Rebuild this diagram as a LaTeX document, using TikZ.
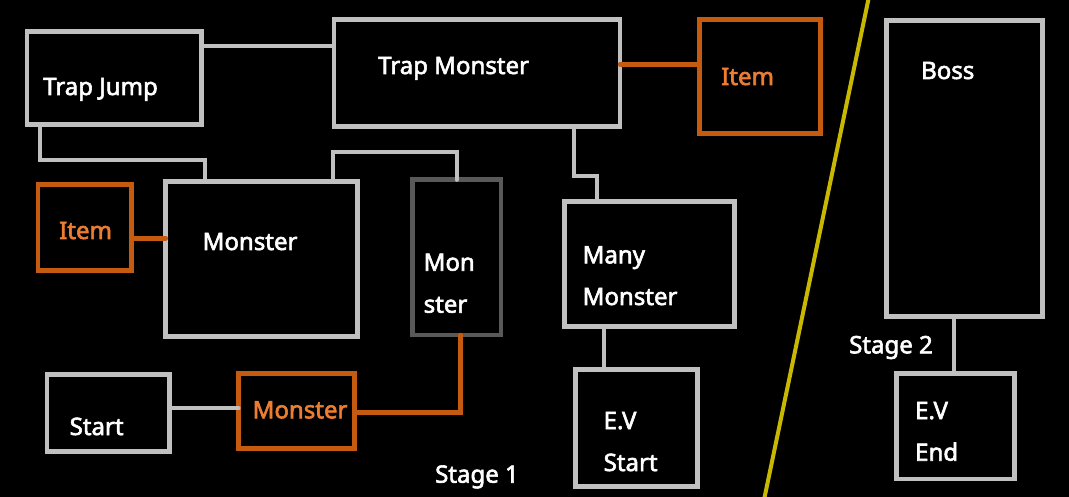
\documentclass[tikz,border=0pt]{standalone}
\usepackage{fontspec}
\setmainfont{Noto Sans}[BoldFont={Noto Sans}, BoldFeatures={FakeBold=2.5}]
\definecolor{lgray}{RGB}{192,192,192}
\definecolor{dgray}{RGB}{89,89,89}
\definecolor{dorange}{RGB}{197,90,17}
\definecolor{lorange}{RGB}{237,125,49}
\definecolor{stageline}{RGB}{200,185,0}
\tikzstyle{room} = [draw=lgray, line width=4.7pt, fill=black, inner sep=0pt, outer sep=0pt]
\tikzstyle{itemroom} = [room, draw=dorange]
\tikzstyle{darkroom} = [room, draw=dgray]
\tikzstyle{roomtext} = [text=white, inner sep=0pt, anchor=base west, font=\bfseries\fontsize{24}{28}\selectfont]
\tikzstyle{itemtext} = [roomtext, text=lorange]
\tikzstyle{link} = [draw=lgray, line width=4pt, line cap=round]
\tikzstyle{itemlink} = [link, draw=dorange, line width=4.5pt]
\begin{document}
\begin{tikzpicture}[x=1pt, y=-1pt]
    \fill[black] (0,0) rectangle (1069,497);
    \useasboundingbox (0,0) rectangle (1069,497);
    \clip (0,0) rectangle (1069,497);

    % stage 1
    \node [room, minimum width=174.5pt, minimum height=92.8pt] (b1) at (114.3,77.9) {};
    \node [room, minimum width=286pt, minimum height=106.8pt] (b2) at (477,72.9) {};
    \node [itemroom, minimum width=120.6pt, minimum height=113.6pt] (b3) at (760,76.5) {};
    \node [itemroom, minimum width=93.4pt, minimum height=86pt] (b5) at (84.7,227.8) {};
    \node [room, minimum width=191.4pt, minimum height=154.6pt] (b6) at (261.5,259) {};
    \node [darkroom, minimum width=88.8pt, minimum height=155.2pt] (b7) at (456.6,257.4) {};
    \node [room, minimum width=170.1pt, minimum height=124.6pt] (b8) at (649.7,264) {};
    \node [room, minimum width=122.3pt, minimum height=77pt] (b9) at (108.2,413) {};
    \node [itemroom, minimum width=115.7pt, minimum height=74.6pt] (b10) at (296.5,411) {};
    \node [room, minimum width=121.6pt, minimum height=116.6pt] (b11) at (636.6,428) {};
    % stage 2
    \node [room, minimum width=156pt, minimum height=295.5pt] (b4) at (964.5,168.5) {};
    \node [room, minimum width=117.6pt, minimum height=105.3pt] (b12) at (955.4,426.4) {};

    \draw [link] ([yshift=-14.8pt]b1.north east) -- ([yshift=-14.8pt]b1.north east -| b2.west);
    \draw [link] ([xshift=13.3pt]b1.south west) -- ++(0,36) -| ([xshift=39.5pt]b6.north west);
    \draw [link] ([xshift=-24pt]b6.north east) -- ++(0,-30) -| (b7.north);
    \draw [link] ([xshift=-45.7pt]b2.south east) -- ++(0,49.7) -| ([xshift=32pt]b8.north west);
    \draw [itemlink] ([yshift=-44.8pt]b2.north east) -- ([yshift=-44.8pt]b2.north east -| b3.west);
    \draw [itemlink] ([yshift=-10.5pt]b5.east) -- ([yshift=-10.5pt]b5.east -| b6.west);
    \draw [link] ([yshift=4.7pt]b9.east) -- ([yshift=4.7pt]b9.east -| b10.west);
    \draw [itemlink] ([yshift=-1.3pt]b10.east) -| ([xshift=4pt]b7.south);
    \draw [link] ([xshift=39.8pt]b8.south west) -- ([xshift=39.8pt]b8.south west |- b11.north);
    \draw [link] ([xshift=-11pt]b4.south) -- ([xshift=-11pt]b4.south |- b12.north);

    \node [roomtext] (t1) at (43,95) {Trap Jump};
    \node [roomtext] (t2) at (378,74) {Trap Monster};
    \node [itemtext] (t3) at (721,85) {Item};
    \node [roomtext] (t4) at (921,79) {Boss};
    \node [itemtext] (t5) at (59,239) {Item};
    \node [roomtext] (t6) at (202.5,250) {Monster};
    \node [roomtext] (t7a) at (423.5,270.7) {Mon};
    \node [roomtext] (t7b) at (423.5,312.7) {ster};
    \node [roomtext] (t8a) at (582.5,263.3) {Many};
    \node [roomtext] (t8b) at (582.5,305) {Monster};
    \node [roomtext] (t9) at (69.5,435) {Start};
    \node [itemtext] (t10) at (252.5,418.3) {Monster};
    \node [roomtext] (t11a) at (603.5,429) {E.V};
    \node [roomtext] (t11b) at (603.5,471) {Start};
    \node [roomtext] (t12a) at (915,419) {E.V};
    \node [roomtext] (t12b) at (915,460.7) {End};
    \node [roomtext] (st1) at (435,482.7) {Stage 1};
    \node [roomtext] (st2) at (849,353.3) {Stage 2};

    % divider between the stages
    \draw [stageline, line width=4pt] (868.9,-3) -- (764,500);
\end{tikzpicture}
\end{document}
